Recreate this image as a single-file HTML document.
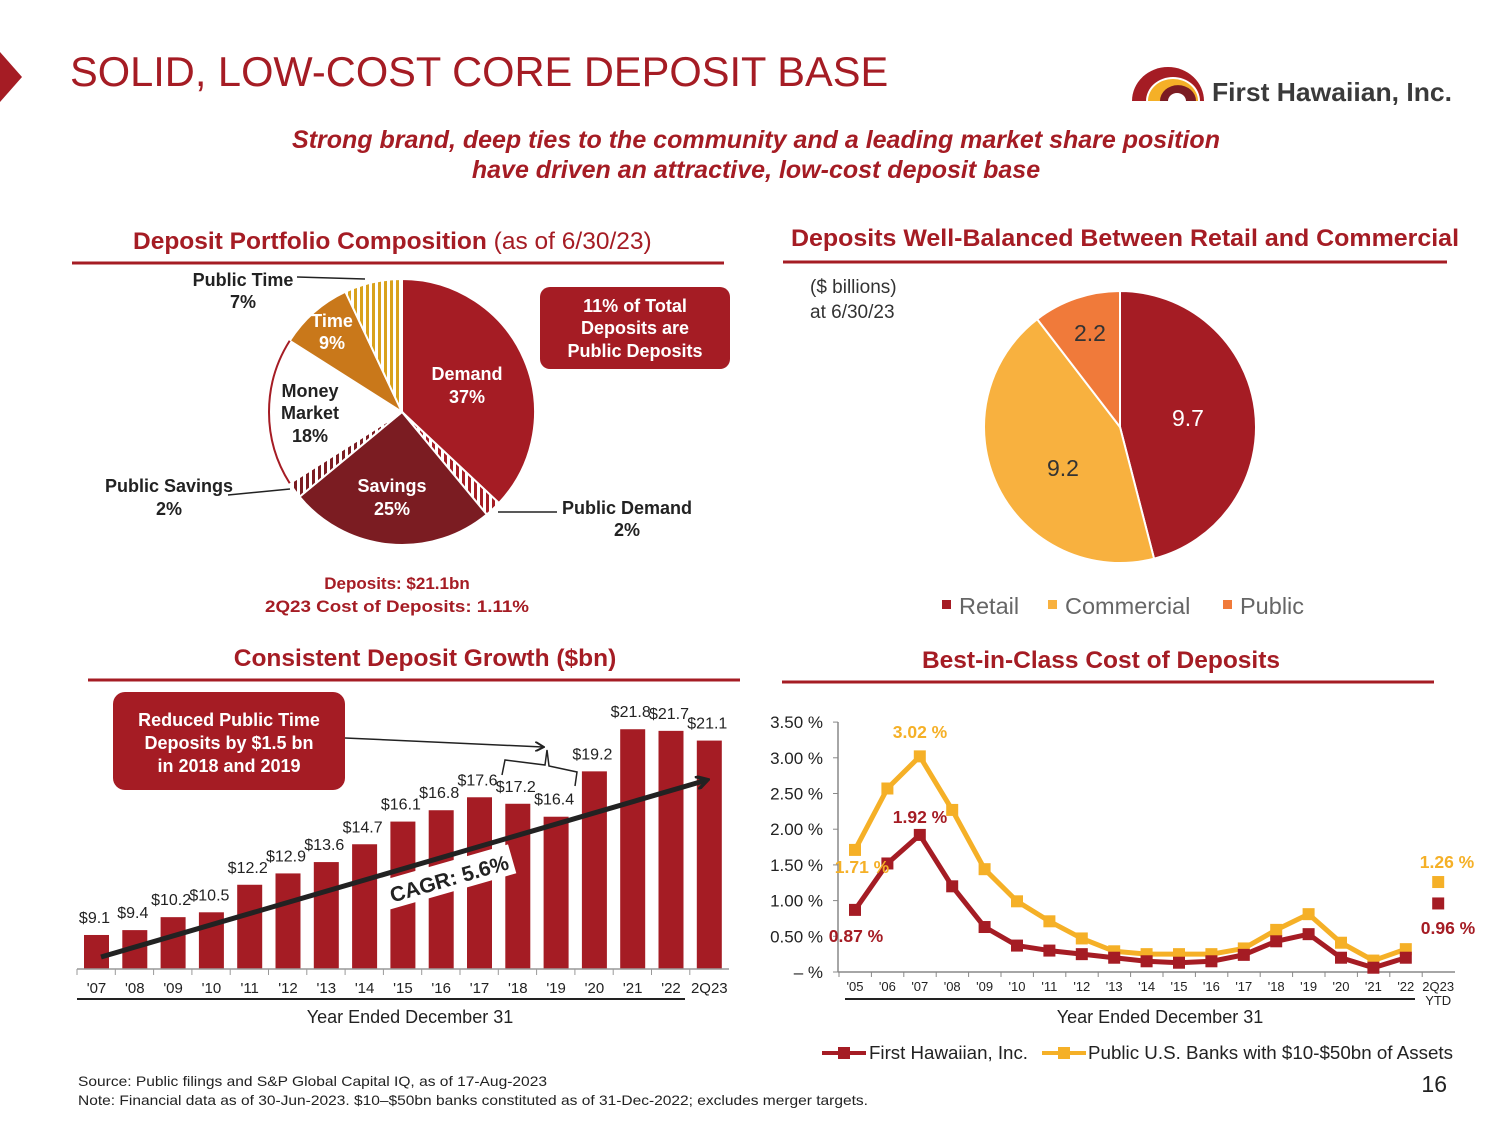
<!DOCTYPE html>
<html><head><meta charset="utf-8"><style>
html,body{margin:0;padding:0;background:#fff;}
svg{display:block;font-family:"Liberation Sans",Arial,sans-serif;}
</style></head><body>
<svg id="s" width="1500" height="1125" viewBox="0 0 1500 1125" xmlns="http://www.w3.org/2000/svg">
<defs>
<pattern id="hRed" width="6" height="6" patternUnits="userSpaceOnUse"><rect width="6" height="6" fill="#fff"/><rect width="3" height="6" fill="#a51c24"/></pattern>
<pattern id="hDark" width="6" height="6" patternUnits="userSpaceOnUse"><rect width="6" height="6" fill="#fff"/><rect width="3" height="6" fill="#7b1c22"/></pattern>
<pattern id="hGold" width="6" height="6" patternUnits="userSpaceOnUse"><rect width="6" height="6" fill="#fff"/><rect width="3" height="6" fill="#d9a21c"/></pattern>
<marker id="ah" markerWidth="10" markerHeight="10" refX="8" refY="5" orient="auto" markerUnits="userSpaceOnUse"><path d="M0,0 L9,5 L0,10" fill="none" stroke="#222" stroke-width="2"/></marker>
<marker id="ah2" markerWidth="14" markerHeight="14" refX="11" refY="7" orient="auto" markerUnits="userSpaceOnUse"><path d="M0,0 L12,7 L0,14" fill="none" stroke="#222" stroke-width="3.5"/></marker>
</defs>
<polygon points="0,52 22,77 0,102" fill="#a51c24"/>
<text x="70" y="86" font-size="41.6" fill="#a51c24">SOLID, LOW-COST CORE DEPOSIT BASE</text>
<g>
<path d="M1132,101 A36,34 0 0 1 1204,101 Z" fill="#a51c24"/>
<path d="M1146,101 A27,24 0 0 1 1200,101 Z" fill="#fff"/>
<path d="M1148,101 A25,22 0 0 1 1198,101 Z" fill="#f5b027"/>
<path d="M1160,101 A17,15 0 0 1 1196,101 Z" fill="#7b1c22"/>
<path d="M1168,101 A9,8 0 0 1 1186,101 Z" fill="#fff"/>
<text x="1212" y="101" font-size="26" fill="#3a3a3a" font-weight="bold" textLength="240" lengthAdjust="spacingAndGlyphs">First Hawaiian, Inc.</text>
</g>
<text x="756" y="148" font-size="25" font-weight="bold" font-style="italic" fill="#a51c24" text-anchor="middle">Strong brand, deep ties to the community and a leading market share position</text>
<text x="756" y="178" font-size="25" font-weight="bold" font-style="italic" fill="#a51c24" text-anchor="middle">have driven an attractive, low-cost deposit base</text>

<text x="133" y="249" font-size="24.5" fill="#a51c24"><tspan font-weight="bold">Deposit Portfolio Composition</tspan> (as of 6/30/23)</text>
<line x1="72" y1="263" x2="724" y2="263" stroke="#a51c24" stroke-width="3"/>
<text x="791" y="246" font-size="24.5" font-weight="bold" fill="#a51c24" textLength="668" lengthAdjust="spacingAndGlyphs">Deposits Well-Balanced Between Retail and Commercial</text>
<line x1="783" y1="262" x2="1447" y2="262" stroke="#a51c24" stroke-width="3"/>
<text x="425" y="666" font-size="24.5" font-weight="bold" fill="#a51c24" text-anchor="middle">Consistent Deposit Growth ($bn)</text>
<line x1="88" y1="680" x2="740" y2="680" stroke="#a51c24" stroke-width="3"/>
<text x="1101" y="668" font-size="24.5" font-weight="bold" fill="#a51c24" text-anchor="middle">Best-in-Class Cost of Deposits</text>
<line x1="782" y1="682" x2="1434" y2="682" stroke="#a51c24" stroke-width="3"/>

<g id="pie1"></g>
<g font-size="18" font-weight="bold" text-anchor="middle">
<text x="467" y="380" fill="#fff">Demand</text><text x="467" y="403" fill="#fff">37%</text>
<text x="392" y="492" fill="#fff">Savings</text><text x="392" y="515" fill="#fff">25%</text>
<text x="310" y="397" fill="#222">Money</text><text x="310" y="419" fill="#222">Market</text><text x="310" y="442" fill="#222">18%</text>
<text x="332" y="327" fill="#fff">Time</text><text x="332" y="349" fill="#fff">9%</text>
<text x="243" y="286" fill="#222">Public Time</text><text x="243" y="308" fill="#222">7%</text>
<text x="169" y="492" fill="#222">Public Savings</text><text x="169" y="515" fill="#222">2%</text>
<text x="627" y="514" fill="#222">Public Demand</text><text x="627" y="536" fill="#222">2%</text>
</g>
<line x1="297" y1="277" x2="365" y2="279" stroke="#222" stroke-width="1.5"/>
<line x1="498" y1="512" x2="557" y2="512" stroke="#222" stroke-width="1.5"/>
<line x1="228" y1="495" x2="290" y2="489" stroke="#222" stroke-width="1.5"/>
<g>
<rect x="540" y="287" width="190" height="82" rx="10" fill="#a51c24"/>
<g font-size="18" font-weight="bold" fill="#fff" text-anchor="middle"><text x="635" y="312">11% of Total</text><text x="635" y="334">Deposits are</text><text x="635" y="357">Public Deposits</text></g>
</g>
<g font-size="17" font-weight="bold" fill="#a51c24" text-anchor="middle"><text x="397" y="589">Deposits: $21.1bn</text><text x="397" y="612" textLength="264" lengthAdjust="spacingAndGlyphs">2Q23 Cost of Deposits: 1.11%</text></g>

<text x="810" y="293" font-size="19" fill="#333">($ billions)</text>
<text x="810" y="318" font-size="19" fill="#333">at 6/30/23</text>
<g id="pie2"></g>
<g font-size="23"><text x="1188" y="426" fill="#fff" text-anchor="middle">9.7</text><text x="1063" y="476" fill="#333" text-anchor="middle">9.2</text><text x="1090" y="341" fill="#333" text-anchor="middle">2.2</text></g>
<g font-size="23.5" fill="#666">
<rect x="942" y="600" width="9" height="9" fill="#a51c24"/><text x="959" y="614">Retail</text>
<rect x="1048" y="600" width="9" height="9" fill="#f8b13f"/><text x="1065" y="614">Commercial</text>
<rect x="1223" y="600" width="9" height="9" fill="#f07a3a"/><text x="1240" y="614">Public</text>
</g>

<g id="bars"></g>
<g id="line"></g>

<text x="78" y="1086" font-size="14" fill="#222" textLength="469" lengthAdjust="spacingAndGlyphs">Source: Public filings and S&amp;P Global Capital IQ, as of 17-Aug-2023</text>
<text x="78" y="1105" font-size="14" fill="#222" textLength="790" lengthAdjust="spacingAndGlyphs">Note: Financial data as of 30-Jun-2023. $10–$50bn banks constituted as of 31-Dec-2022; excludes merger targets.</text>
<text x="1447" y="1092" font-size="23" fill="#222" text-anchor="end">16</text>
</svg>
<script>
const NS="http://www.w3.org/2000/svg";
// Portfolio pie data
const pieLabels=["Demand","Public Demand","Savings","Public Savings","Money Market","Time","Public Time"];
const pieValues=[37,2,25,2,18,9,7];
const pieFills=["#a51c24","url(#hRed)","#7b1c22","url(#hDark)","#fff","#c9781a","url(#hGold)"];
// Balance pie data
const balLabels=["Retail","Commercial","Public"];
const balValues=[9.7,9.2,2.2];
const balFills=["#a51c24","#f8b13f","#f07a3a"];
// Bar chart data
const barCats=["'07","'08","'09","'10","'11","'12","'13","'14","'15","'16","'17","'18","'19","'20","'21","'22","2Q23"];
const barVals=[9.1,9.4,10.2,10.5,12.2,12.9,13.6,14.7,16.1,16.8,17.6,17.2,16.4,19.2,21.8,21.7,21.1];
// Line chart data
const lineCats=["'05","'06","'07","'08","'09","'10","'11","'12","'13","'14","'15","'16","'17","'18","'19","'20","'21","'22","2Q23"];
const fhiVals=[0.87,1.52,1.92,1.20,0.63,0.37,0.30,0.25,0.20,0.15,0.13,0.15,0.24,0.43,0.53,0.20,0.06,0.20,0.96];
const peerVals=[1.71,2.57,3.02,2.27,1.44,0.99,0.71,0.47,0.29,0.25,0.25,0.25,0.33,0.59,0.81,0.41,0.16,0.32,1.26];
const yTicks=[0,0.5,1,1.5,2,2.5,3,3.5];
const yTickLabels=["– %","0.50 %","1.00 %","1.50 %","2.00 %","2.50 %","3.00 %","3.50 %"];

function mk(tag,attrs,parent){const e=document.createElementNS(NS,tag);for(const k in attrs)e.setAttribute(k,attrs[k]);parent.appendChild(e);return e;}
function pie(g,vals,fills,names,cx,cy,r,stroke){
  const tot=vals.reduce((a,b)=>a+b,0);let a0=-Math.PI/2;
  vals.forEach((v,i)=>{const a1=a0+v/tot*2*Math.PI;
    const x0=cx+r*Math.cos(a0),y0=cy+r*Math.sin(a0),x1=cx+r*Math.cos(a1),y1=cy+r*Math.sin(a1);
    const p=mk('path',{d:`M${cx},${cy} L${x0},${y0} A${r},${r} 0 ${a1-a0>Math.PI?1:0} 1 ${x1},${y1} Z`,fill:fills[i],stroke:stroke,'stroke-width':2},g);
    
    
    a0=a1;});
}
pie(document.getElementById('pie1'),pieValues,pieFills,pieLabels,402,412,133,"#fff");
(function(){const tot=100;let s=0;for(let i=0;i<4;i++)s+=pieValues[i];const a0=-Math.PI/2+s/tot*2*Math.PI,a1=a0+pieValues[4]/tot*2*Math.PI;
mk('path',{d:`M${402+133*Math.cos(a0)},${412+133*Math.sin(a0)} A133,133 0 0 1 ${402+133*Math.cos(a1)},${412+133*Math.sin(a1)}`,fill:'none',stroke:'#a51c24','stroke-width':2},document.getElementById('pie1'));})();
pie(document.getElementById('pie2'),balValues,balFills,balLabels,1120,427,136,"#fff");

// Bars
(function(){const g=document.getElementById('bars');
const x0=84,pitch=38.3,bw=25,base=969,vmin=7,k=16.2;
const X=i=>x0+i*pitch, Y=v=>base-(v-vmin)*k;
barCats.forEach((c,i)=>{
  const r=mk('rect',{x:X(i),y:Y(barVals[i]),width:bw,height:base-Y(barVals[i]),fill:'#a51c24'},g);
  
  
  const t=mk('text',{x:X(i)+bw/2-2,y:Y(barVals[i])-12,'font-size':16,fill:'#222','text-anchor':'middle'},g);t.textContent='$'+barVals[i].toFixed(1);
  const l=mk('text',{x:X(i)+bw/2,y:993,'font-size':15,fill:'#222','text-anchor':'middle'},g);l.textContent=c;
  mk('line',{x1:X(i)-7,y1:969,x2:X(i)-7,y2:975,stroke:'#999'},g);
});
mk('line',{x1:77,y1:969,x2:729,y2:969,stroke:'#999','stroke-width':1.5},g);
mk('line',{x1:77,y1:999,x2:685,y2:999,stroke:'#222','stroke-width':2},g);
const t=mk('text',{x:410,y:1023,'font-size':18,fill:'#222','text-anchor':'middle'},g);t.textContent='Year Ended December 31';
mk('line',{x1:101,y1:957,x2:707,y2:780,stroke:'#222','stroke-width':5,'marker-end':'url(#ah2)'},g);
const cg=mk('g',{transform:'translate(449,878) rotate(-16)'},g);
mk('rect',{x:-66,y:-16,width:132,height:30,fill:'#fff'},cg);
const ct=mk('text',{x:0,y:8,'font-size':21,'font-weight':'bold',fill:'#222','text-anchor':'middle'},cg);ct.textContent='CAGR:  5.6%';
const box=mk('rect',{x:113,y:692,width:232,height:98,rx:12,fill:'#a51c24'},g);


['Reduced Public Time','Deposits by $1.5 bn','in 2018 and 2019'].forEach((s,i)=>{const e=mk('text',{x:229,y:726+i*23,'font-size':18,'font-weight':'bold',fill:'#fff','text-anchor':'middle'},g);e.textContent=s;});
mk('line',{x1:345,y1:738,x2:543,y2:747,stroke:'#222','stroke-width':1.5,'marker-end':'url(#ah)'},g);
mk('path',{d:'M502,775 L505,760 L545,765 L547,750 L549,766 L577,772 L575,786',fill:'none',stroke:'#222','stroke-width':1.5},g);
})();

// Line chart
(function(){const g=document.getElementById('line');
const x0=855,pitch=32.4,base=972,k=71.4;
const X=i=>x0+i*pitch, Y=v=>base-v*k;
mk('line',{x1:838,y1:722,x2:838,y2:972,stroke:'#888','stroke-width':1.5},g);
mk('line',{x1:838,y1:972,x2:1455,y2:972,stroke:'#888','stroke-width':1.5},g);
yTicks.forEach((v,i)=>{mk('line',{x1:833,y1:Y(v),x2:838,y2:Y(v),stroke:'#888'},g);
  const t=mk('text',{x:823,y:Y(v)+6,'font-size':17,fill:'#222','text-anchor':'end'},g);t.textContent=yTickLabels[i];});
lineCats.forEach((c,i)=>{mk('line',{x1:X(i)-16,y1:972,x2:X(i)-16,y2:977,stroke:'#888'},g);
  const t=mk('text',{x:X(i),y:991,'font-size':13,fill:'#222','text-anchor':'middle'},g);t.textContent=c;});
const ytd=mk('text',{x:X(18),y:1005,'font-size':13,fill:'#222','text-anchor':'middle'},g);ytd.textContent='YTD';
mk('line',{x1:845,y1:999,x2:1415,y2:999,stroke:'#222','stroke-width':2},g);
const xt=mk('text',{x:1160,y:1023,'font-size':18,fill:'#222','text-anchor':'middle'},g);xt.textContent='Year Ended December 31';
function series(vals,col,name){const n=vals.length-1;
  const pts=vals.slice(0,n).map((v,i)=>X(i)+','+Y(v)).join(' ');
  const pl=mk('polyline',{points:pts,fill:'none',stroke:col,'stroke-width':5,'stroke-linejoin':'round'},g);
  
  
  vals.forEach((v,i)=>{const r=mk('rect',{x:X(i)-6,y:Y(v)-6,width:12,height:12,fill:col},g);
    
    });
}
series(peerVals,'#f5b027','peer-banks');
series(fhiVals,'#a51c24','first-hawaiian');
const ann=[[920,738,'3.02 %','#f5b027'],[920,823,'1.92 %','#a51c24'],[862,873,'1.71 %','#f5b027'],[856,942,'0.87 %','#a51c24'],[1447,868,'1.26 %','#f5b027'],[1448,934,'0.96 %','#a51c24']];
ann.forEach(a=>{const t=mk('text',{x:a[0],y:a[1],'font-size':17.5,'font-weight':'bold',fill:a[3],'text-anchor':'middle'},g);t.textContent=a[2];});
const lg=mk('g',{},g);


mk('line',{x1:822,y1:1053,x2:866,y2:1053,stroke:'#a51c24','stroke-width':4},lg);
mk('rect',{x:838,y:1047,width:12,height:12,fill:'#a51c24'},lg);
const l1=mk('text',{x:869,y:1059,'font-size':18,fill:'#222',textLength:159,lengthAdjust:'spacingAndGlyphs'},lg);l1.textContent='First Hawaiian, Inc.';
mk('line',{x1:1042,y1:1053,x2:1086,y2:1053,stroke:'#f5b027','stroke-width':4},lg);
mk('rect',{x:1058,y:1047,width:12,height:12,fill:'#f5b027'},lg);
const l2=mk('text',{x:1088,y:1059,'font-size':18,fill:'#222',textLength:365,lengthAdjust:'spacingAndGlyphs'},lg);l2.textContent='Public U.S. Banks with $10-$50bn of Assets';
})();
</script>
</body></html>
